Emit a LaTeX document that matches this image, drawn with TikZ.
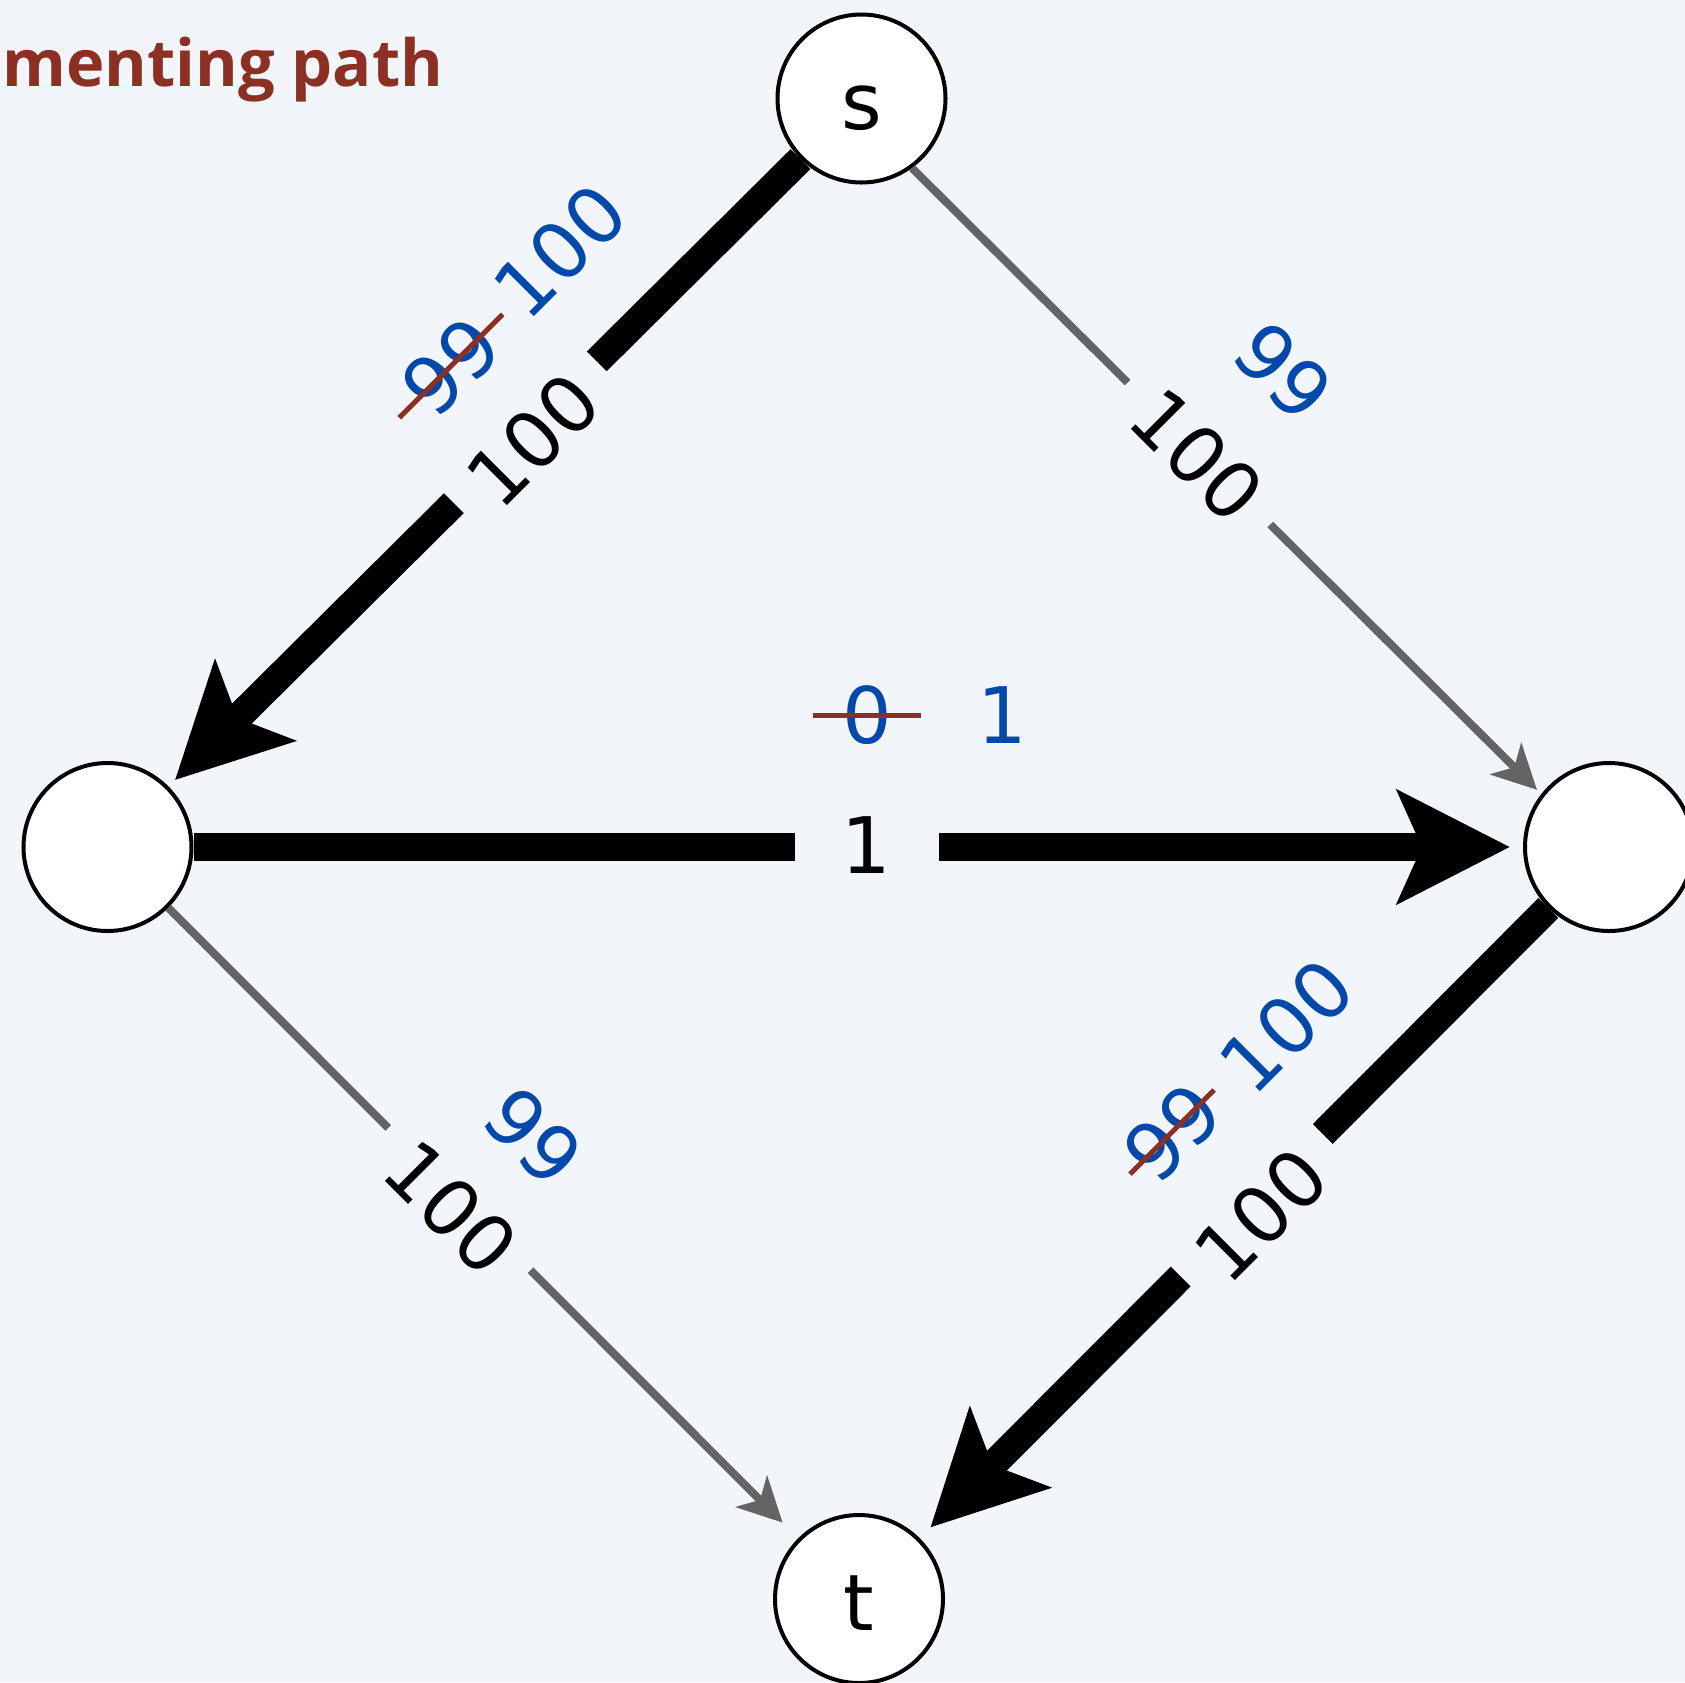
\documentclass[tikz,border=0pt]{standalone}
\usepackage{fontspec}
\setmainfont{DejaVu Sans}
\newfontfamily\titlefont{Open Sans}
\usetikzlibrary{calc,arrows.meta}
\definecolor{bgpaper}{RGB}{242,246,250}
\definecolor{flowblue}{RGB}{0,72,170}
\definecolor{strikered}{RGB}{140,48,36}
\definecolor{edgegray}{RGB}{100,100,100}

\begin{document}
\begin{tikzpicture}[x=0.5pt, y=-0.5pt,
		vtx/.style={circle, draw=black, line width=2pt, fill=white, minimum size=84pt, inner sep=0pt, text height=31pt, text depth=0pt, font=\fontsize{39}{40}\selectfont},
		fulledge/.style={draw=black, line width=14pt, -{Stealth[length=56pt, width=56pt, inset=12pt]}},
		spareedge/.style={draw=edgegray, line width=4pt, -{Stealth[length=22pt, width=22pt, inset=6pt]}},
		capbox/.style={fill=bgpaper, inner xsep=13pt, inner ysep=6pt, minimum width=72pt, font=\fontsize{39}{40}\selectfont},
		flowtxt/.style={text=flowblue, inner sep=0pt, font=\fontsize{39}{40}\selectfont},
		oldflow/.style={flowtxt, inner xsep=11.5pt},
		strikeout/.style={draw=strikered, line width=2.5pt}]
	\path[use as bounding box, fill=bgpaper] (0,0) rectangle (1685,1682);
	\node[anchor=base west, inner sep=0pt, text=strikered, font=\titlefont\fontsize{32.5}{34}\selectfont\bfseries] (title) at (2,86) {menting path};
	
	\node[vtx] (s) at (861.5,98.5) {s};
	\node[vtx] (a) at (107.5,847) {};
	\node[vtx] (b) at (1609,847) {};
	\node[vtx] (t) at (859,1599) {t};
	
	\draw[fulledge, shorten >=4.5pt] (s) -- (a);
	\draw[spareedge, shorten >=3pt] (s.-54) -- (b.142);
	\draw[fulledge, shorten >=6.5pt] (a) -- (b);
	\draw[spareedge, shorten >=11pt] (a) -- (t);
	\draw[fulledge, shorten >=7.5pt] (b) -- (t);
	
	\node[capbox, rotate=45] (c-sa) at (533,440) {100};
	\node[oldflow, rotate=45] (o-sa) at (451,366) {99};
	\draw[strikeout] (o-sa.west) -- (o-sa.east);
	\node[flowtxt, rotate=45] (f-sa) at (560,251) {100};
	
	\node[capbox, rotate=-45] (c-sb) at (1197.5,455) {100};
	\node[flowtxt, rotate=-45] (f-sb) at (1284,371.5) {99};
	
	\node[capbox] (c-ab) at (866.7,845) {1};
	\node[oldflow, inner xsep=14.6pt] (o-ab) at (867,715.3) {0};
	\draw[strikeout] (o-ab.west) -- (o-ab.east);
	\node[flowtxt] (f-ab) at (1002.5,715.3) {1};
	
	\node[capbox, rotate=-45] (c-at) at (451,1207.5) {100};
	\node[flowtxt, rotate=-45] (f-at) at (533.5,1136.5) {99};
	
	\node[capbox, rotate=45] (c-bt) at (1261,1214.5) {100};
	\node[oldflow, rotate=45, inner xsep=4.75pt] (o-bt) at (1172,1132) {99};
	\draw[strikeout] (o-bt.west) -- (o-bt.east);
	\node[flowtxt, rotate=45] (f-bt) at (1286.5,1025.5) {100};
\end{tikzpicture}
\end{document}
